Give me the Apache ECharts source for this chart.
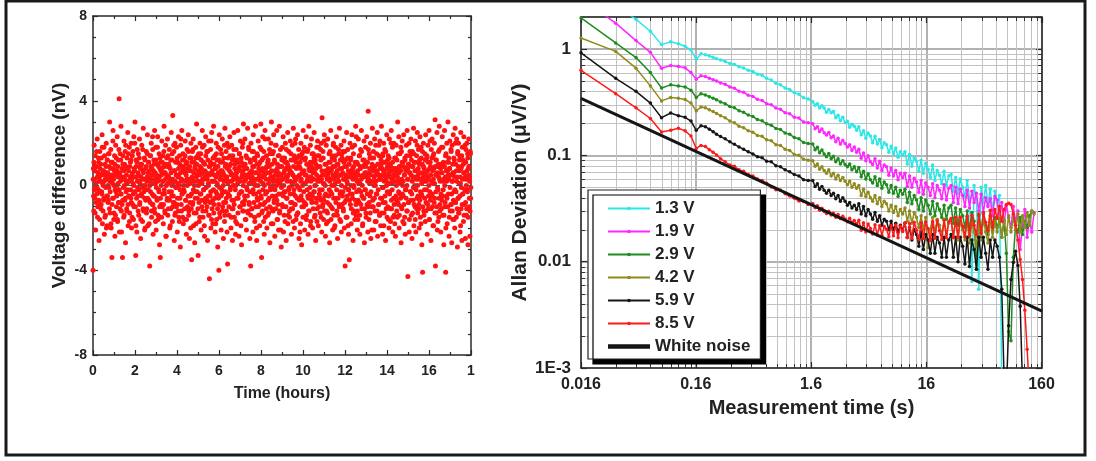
<!DOCTYPE html>
<html><head><meta charset="utf-8">
<script src="https://cdn.jsdelivr.net/npm/echarts@6/dist/echarts.min.js"></script>
<style>html,body{margin:0;padding:0;background:#fff}#c{width:1096px;height:461px}</style>
</head><body><div id="c"></div>
<script>
// ---------- Left panel: voltage difference vs time ----------
const timeStepHours = 0.018;        // spacing of readings within each run
const runBOffsetHours = 0.009;      // run B readings fall between run A readings
const voltageDiffA = [
-4.0,0.8,-1.2,1.9,0.3,-0.6,1.4,-2.1,0.1,0.9,-0.4,2.2,-1.5,0.6,-0.2,1.1,-2.6,0.4,1.6,-0.9,
0.2,-1.1,1.3,-0.3,2.4,-1.8,0.7,0.0,-0.7,1.8,-2.3,0.5,1.0,-1.4,0.3,2.0,-0.5,-1.9,1.2,0.6,
-0.8,1.5,-0.1,0.9,3.0,-1.3,0.4,1.7,-2.0,0.2,-3.4,1.1,-0.6,2.6,0.8,-1.6,0.0,1.4,-2.4,0.5,
1.9,-0.3,-1.0,0.7,2.3,-1.7,0.1,1.2,-0.8,4.1,-2.2,0.6,1.5,-0.4,2.8,-1.2,0.3,-0.9,-3.4,1.0,
0.4,-1.5,2.1,0.0,-0.7,1.6,-2.7,0.9,0.2,-1.1,1.3,-0.2,2.5,-1.9,0.7,-0.5,1.8,-1.3,0.3,1.1,
-0.6,2.0,-2.0,0.5,1.4,-0.9,0.1,-1.6,2.3,0.8,-0.3,3.0,-1.0,-3.3,1.2,0.4,-2.2,1.7,-0.1,0.6,
1.5,-1.4,0.2,2.2,-0.8,0.9,-2.5,1.0,-0.4,1.9,0.3,-1.7,0.7,2.7,-1.2,0.0,1.3,-0.6,-2.0,0.8,
-0.2,1.6,-1.1,0.4,2.4,-1.9,0.6,1.1,-0.7,0.2,-3.8,1.4,-0.3,0.9,2.0,-1.5,0.5,-0.9,1.7,-2.3,
0.7,1.2,-0.5,2.6,-1.3,0.1,1.8,-2.1,0.4,-0.6,1.0,2.3,-1.6,0.3,-0.2,1.5,-2.8,0.8,-3.4,1.1,
-0.9,0.5,2.1,-1.0,0.2,1.4,-1.8,0.9,2.8,-0.4,-1.2,0.6,1.9,-2.4,0.0,1.3,-0.7,2.2,-1.4,0.4,
1.0,-0.3,1.7,-2.0,0.8,0.3,-1.1,2.5,-0.5,1.2,-1.7,3.3,0.1,-0.8,1.6,-2.6,0.7,2.0,-1.3,-0.1,
0.5,1.8,-0.9,-2.2,1.1,0.4,2.3,-1.5,0.0,1.4,-0.6,-2.9,1.9,0.2,-1.2,2.6,-0.4,0.9,1.5,-1.8,
-0.2,1.2,-1.6,0.6,2.1,-0.7,1.0,-2.3,0.3,1.7,-1.0,0.8,2.4,-1.4,0.1,-2.5,1.3,-0.5,0.7,2.0,
-1.1,-3.5,0.4,1.6,-0.8,2.2,-1.9,0.2,1.1,-2.7,0.9,-0.3,1.8,-1.3,2.9,0.5,-0.6,1.4,-3.3,0.0,
1.3,-1.7,0.6,2.0,-0.4,1.5,-2.1,0.8,-1.0,2.6,0.3,-1.5,1.1,-0.2,1.9,-2.4,0.7,-0.8,2.3,-1.2,
0.4,1.6,-0.7,-2.6,1.2,0.1,2.1,-1.4,-4.4,0.9,-0.5,1.7,-2.0,0.6,2.5,-1.1,0.2,-1.8,1.0,2.8,
-0.9,0.5,1.4,-2.2,0.8,-0.3,2.0,-1.6,1.2,0.0,-2.9,1.8,-0.6,-4.0,2.4,-1.3,0.3,1.1,0.7,-2.1,
1.5,-0.4,2.2,-1.0,0.6,-2.5,1.3,0.2,-1.7,2.7,0.9,-0.8,1.6,-1.2,0.4,2.0,-3.7,0.1,-0.5,1.8,
-1.4,0.7,2.3,-0.2,1.0,-2.0,0.5,1.9,-1.1,-2.6,1.4,0.3,-0.7,2.5,-1.5,0.8,1.2,-2.3,0.0,1.7,
0.6,-1.8,1.1,2.6,-0.6,0.2,-2.4,1.5,0.9,-1.0,2.1,-0.3,1.3,-2.8,0.4,1.8,-1.2,0.7,2.9,-0.9,
1.0,-0.5,2.2,-1.6,0.3,1.4,-2.1,0.8,-0.2,2.7,-1.3,0.5,1.7,-0.8,0.1,-2.5,1.2,-3.8,2.0,0.6,
-1.1,1.6,0.2,-2.2,2.4,-0.4,0.9,1.3,-1.7,0.0,2.8,-1.0,0.6,-2.6,1.5,0.3,-0.7,2.1,-1.4,1.0,
0.4,-1.9,1.8,0.7,2.9,-0.6,-3.4,1.2,-1.2,2.3,0.1,-0.9,1.6,-2.3,0.5,2.6,-1.5,0.8,-0.3,1.4,
-2.0,0.9,1.1,-0.7,2.2,-1.3,0.3,1.7,-2.7,0.6,-0.2,2.0,3.0,-1.1,0.4,1.5,-1.8,0.0,2.4,-0.8,
1.2,-2.4,0.7,1.9,-0.5,0.2,2.6,-1.6,1.0,-0.9,1.4,-2.1,0.5,2.8,-1.2,0.1,1.7,-0.4,-2.9,0.9,
0.3,1.8,-1.0,2.3,-2.2,0.6,-0.3,1.3,-1.7,2.0,0.8,-2.6,1.1,-0.6,0.4,2.5,-1.4,0.9,1.6,-0.1,
-1.5,0.7,2.1,-0.8,1.2,-2.3,0.0,1.9,-1.1,0.5,2.7,-0.4,1.4,-2.0,0.2,-0.9,2.2,-1.6,0.8,1.3,
-0.6,2.4,-1.3,0.4,1.7,-2.5,0.9,-0.2,1.1,-1.8,2.0,0.3,-2.8,1.5,-0.7,0.6,2.6,-1.0,0.1,1.8,
-2.1,0.5,1.3,-0.9,2.3,-1.4,0.2,1.6,-0.5,-2.3,1.0,2.8,-1.2,0.7,-0.1,1.9,-1.7,0.4,2.2,-0.8,
1.1,-2.0,0.6,1.5,-0.3,2.5,-1.5,0.0,1.2,-2.6,0.8,-0.6,1.8,-1.1,2.1,0.3,-1.9,0.9,1.4,-0.4,
0.2,-1.3,1.7,-0.7,2.0,-2.2,3.2,0.5,-0.9,1.3,-1.6,0.1,2.4,-0.5,1.0,-2.4,0.7,1.9,-1.2,0.4,
-0.8,2.2,-1.7,0.6,1.1,-0.2,-2.7,1.6,0.3,2.6,-1.0,0.8,-0.4,1.4,-2.1,0.9,2.0,-1.4,0.0,1.2,
-1.9,0.4,1.8,-0.6,2.3,-1.2,0.7,-2.5,1.0,0.2,1.5,-0.9,2.7,-1.6,0.5,-0.3,1.9,-2.2,0.8,1.3,
-0.5,1.6,-1.1,0.3,2.1,-2.0,0.9,-3.8,1.2,-0.7,0.4,2.5,-1.5,0.1,1.7,-0.2,-2.3,1.0,-3.5,0.6,
2.0,-0.9,1.3,-1.8,0.5,2.4,-0.4,0.8,-2.6,1.5,0.0,-1.2,1.9,0.6,-0.7,2.8,-1.4,0.3,1.1,-2.1,
0.7,-1.6,2.2,0.1,-0.8,1.4,-2.3,0.9,1.7,-0.3,2.6,-1.1,0.4,-1.9,1.2,0.5,-0.6,2.1,-2.7,1.0,
-0.2,1.8,-1.3,0.6,2.3,-0.9,1.1,-2.2,3.5,0.3,-1.6,1.5,0.8,-0.5,2.0,-2.5,0.2,1.3,-1.0,2.7,
-0.7,0.9,1.6,-2.1,0.4,2.2,-1.2,0.0,1.9,-1.7,0.7,-0.4,2.5,-2.4,1.0,0.5,-0.9,1.4,-1.4,2.1,
0.3,-1.9,1.2,2.8,-0.6,0.8,-2.3,1.5,-0.1,2.0,-1.3,0.6,1.7,-0.8,-2.6,1.1,0.2,2.4,-1.5,0.9,
-1.0,1.4,0.5,-2.0,2.2,-0.3,1.0,-1.7,0.7,2.6,-1.1,0.1,1.8,-2.2,0.4,-0.6,2.0,-1.4,1.3,0.8,
-2.4,0.6,1.9,-0.7,1.2,-1.5,3.0,0.2,-0.9,2.3,-2.0,0.9,1.5,-0.4,0.7,-2.7,1.6,-1.1,2.1,0.0,
1.1,-0.5,2.4,-1.8,0.5,1.3,-2.3,0.8,-0.2,1.9,-1.2,2.6,0.3,-4.3,1.0,-0.8,2.0,-1.6,0.6,1.4,
-0.3,2.2,-1.4,0.9,-2.5,1.6,0.4,-0.7,2.7,-1.9,1.1,0.0,-1.0,2.1,-2.2,0.7,1.4,-0.6,2.5,-1.3,
0.5,1.7,-0.9,-2.0,1.2,2.3,-1.5,0.3,1.8,-0.4,-2.8,1.0,-4.1,0.6,2.0,-1.2,0.8,-0.2,1.5,-1.7,
2.4,-0.8,0.2,1.3,-2.3,0.7,1.9,-1.1,0.4,2.6,-1.6,-0.3,1.1,0.9,-2.6,1.7,-0.5,2.2,-1.0,0.1,
1.4,-1.9,0.8,2.0,-0.6,3.1,-3.8,1.2,-1.3,0.5,2.5,-2.1,0.9,-0.2,1.6,-1.5,2.8,0.3,-0.9,1.0,
-2.2,0.6,1.8,-0.7,2.3,-1.4,0.2,1.1,-2.8,0.9,2.6,-1.0,0.4,-4.1,1.5,-0.5,2.0,-1.8,0.7,3.0,
-0.4,1.3,-2.4,0.8,2.1,-1.2,0.5,1.7,-0.9,-2.7,1.9,0.2,-1.6,2.4,0.6,-0.3,1.2,-2.0,2.7,-0.8,
1.0,-1.5,2.2,0.4,-2.9,1.6,-0.6,2.0,-1.3,0.7,1.4,-2.2,0.1,2.5,-1.1,0.9,-2.6,1.8,-0.4,1.2,
-1.7,2.3,0.6,-0.9,1.9,-2.5,1.1,0.3,-1.4,2.0,-0.2,1.5,-2.8,0.8,2.2,-1.0,0.4,-2.4,1.6,-0.6
];
const voltageDiffB = [
0.3,-0.5,1.1,-0.2,0.7,-1.3,0.0,0.9,-0.8,1.6,-0.1,0.4,-1.0,0.6,1.3,-0.7,0.2,-1.6,0.8,-0.3,
1.0,-0.9,0.5,-0.4,1.8,0.1,-1.2,0.7,-0.6,0.2,1.4,-1.5,0.3,-0.1,0.9,-2.0,0.6,1.2,-0.5,0.0,
-0.7,0.4,1.5,-1.1,0.2,-0.3,0.8,-1.8,1.1,0.5,-0.9,0.1,2.1,-0.6,0.3,-1.3,0.7,1.0,-0.2,-1.4,
0.6,1.3,-0.5,0.0,-1.6,0.9,0.4,-0.8,1.7,-0.2,0.5,-1.1,0.2,1.2,-0.4,-2.2,0.8,0.3,-0.7,1.4,
-0.1,0.7,-1.4,1.0,0.3,-0.6,1.9,-0.3,0.5,-1.2,0.1,0.8,-0.9,1.5,-0.5,0.2,-1.7,0.9,0.4,-0.2,
1.2,-0.8,0.3,-1.5,0.6,1.6,-0.4,0.0,-1.0,0.7,2.0,-0.3,0.4,-1.9,0.9,-0.6,1.1,0.2,-0.5,-1.2,
0.5,-0.2,1.3,-0.9,0.1,0.8,-1.6,0.4,1.0,-0.5,-0.1,1.7,-1.1,0.6,-0.3,0.3,-2.1,1.2,0.0,-0.7,
0.9,-1.3,0.2,1.5,-0.6,0.4,-0.2,1.1,-1.8,0.7,0.0,-0.8,1.4,0.3,-1.2,0.8,-0.4,2.3,-0.9,0.1,
-0.5,1.0,-1.1,0.3,0.6,-1.7,1.2,-0.1,0.5,-0.7,1.8,0.2,-1.4,0.9,-0.3,0.4,-1.0,1.3,-0.6,0.7,
0.0,-1.5,0.8,1.1,-0.4,0.2,-0.9,1.6,-0.2,0.6,-1.3,0.3,1.0,-2.4,0.5,0.9,-0.6,0.1,1.4,-1.1,
0.4,0.9,-0.7,0.2,-1.9,1.2,0.6,-0.3,0.0,1.5,-1.0,0.3,-0.5,1.9,-0.8,0.7,-1.4,0.2,1.1,-0.1,
-1.0,0.5,1.3,-0.6,0.1,-1.2,0.8,0.4,-1.7,1.0,-0.2,0.6,2.2,-0.9,0.3,-0.4,1.2,-1.5,0.7,0.0,
0.8,-0.3,-1.1,1.4,0.2,-0.7,0.5,-1.6,1.1,0.0,0.7,-0.5,1.6,-1.2,0.3,0.9,-0.8,0.1,-2.0,1.3,
-0.4,1.1,0.3,-0.9,1.7,-0.2,0.6,-1.3,0.0,0.8,-0.6,1.3,-1.8,0.4,1.0,-0.3,0.2,-1.1,0.7,1.5,
-0.8,0.2,-1.5,0.9,0.5,-0.4,1.2,-0.7,0.1,1.8,-1.2,0.6,-0.2,0.3,-1.9,1.0,0.4,-0.6,1.4,-0.1,
0.6,-1.0,0.3,1.6,-0.5,0.0,-1.4,0.9,0.5,-0.8,1.1,-0.3,2.1,-1.6,0.2,0.7,-0.7,1.3,-0.2,-1.3,
1.0,0.2,-0.6,0.8,-1.8,0.4,1.5,-0.4,0.1,-1.1,0.9,0.6,-0.9,1.2,-0.1,-1.5,0.5,1.7,-0.5,0.3,
-0.2,0.7,-1.2,1.1,0.0,-0.8,0.5,1.9,-1.4,0.3,-0.3,1.0,-0.6,0.4,-2.2,0.8,1.3,-0.4,0.2,-1.0,
0.9,-0.5,1.4,-0.1,0.6,-1.5,0.2,-0.7,1.2,0.5,-1.1,0.0,1.7,-0.9,0.3,1.0,-0.2,-1.7,0.6,0.4,
-0.6,1.2,0.1,-1.3,0.8,0.3,-0.4,1.5,-1.0,0.2,0.7,-1.9,1.1,-0.3,0.5,-0.8,2.0,0.0,-1.2,0.9,
0.2,-0.7,1.0,0.5,-1.6,0.8,-0.1,1.3,-0.5,0.4,-1.2,1.8,0.1,-0.9,0.6,-0.3,1.1,-1.4,0.3,0.7,
-1.1,0.4,0.9,-0.2,1.6,-0.8,0.1,-1.5,1.2,0.6,-0.4,0.3,-2.0,1.0,-0.6,1.4,0.0,-1.0,0.8,-0.3,
0.5,1.1,-0.9,0.2,-0.5,1.7,-1.3,0.4,0.8,-0.2,1.3,-1.7,0.6,0.0,-0.8,2.2,-0.4,0.3,-1.1,0.9,
-0.3,0.6,-1.4,1.2,0.1,-0.6,0.9,-1.0,1.5,-0.1,0.4,-1.8,0.7,1.0,-0.5,0.2,-1.2,1.6,0.3,-0.7,
1.1,-0.2,0.5,-1.1,1.9,0.0,-0.7,0.8,-1.6,0.3,0.6,-0.4,1.4,-1.3,0.2,0.9,-2.1,0.5,-0.1,1.2,
-0.9,0.3,1.3,-0.5,0.0,-1.4,0.7,1.1,-0.3,0.4,-1.0,1.7,-0.6,0.2,1.0,-1.8,0.5,-0.2,0.8,-1.2,
0.7,-0.4,0.2,1.5,-1.1,0.6,-0.8,0.1,1.2,-1.7,0.9,-0.2,0.4,-0.9,2.0,-0.5,0.3,1.1,-1.4,0.0,
0.4,-1.3,0.9,-0.1,1.4,-0.7,0.5,-2.2,0.8,0.2,-0.5,1.3,-1.0,0.6,0.0,-1.5,1.6,-0.3,0.7,-0.8,
1.2,0.1,-0.9,0.5,-1.6,1.0,-0.2,0.3,1.7,-0.6,-1.2,0.8,0.4,-0.4,1.1,-1.9,0.2,0.9,-0.7,1.5,
-0.5,0.8,-1.1,0.3,1.3,-0.3,0.6,-1.4,0.0,1.0,-0.8,0.5,-1.7,1.4,0.2,-0.6,1.8,-1.0,0.4,-0.2,
0.9,-0.6,1.2,-1.5,0.3,0.7,-0.2,-1.0,1.6,0.1,-0.7,2.1,-1.2,0.5,0.0,-0.4,1.0,-1.8,0.6,0.3,
-1.3,0.4,0.8,-0.5,1.5,-0.9,0.2,1.1,-0.3,-1.6,0.7,0.0,1.3,-1.1,0.5,1.9,-0.6,0.3,-2.0,0.9,
0.1,1.4,-0.8,0.6,-0.2,1.0,-1.4,0.4,-0.6,1.7,0.2,-1.0,0.8,-0.4,1.2,-1.7,0.5,0.0,1.5,-0.9,
0.6,-0.3,-1.2,1.1,0.3,-0.8,1.6,-0.1,0.5,-1.5,0.9,0.2,-0.5,1.3,-1.9,0.7,-0.2,1.0,-0.7,0.4,
-0.4,1.2,0.0,-1.1,0.7,1.8,-0.6,0.3,-1.3,0.9,-0.1,0.6,-1.6,1.1,0.4,-0.9,2.3,-0.3,0.2,-1.2,
1.0,-0.7,0.5,-0.2,1.4,-1.4,0.1,0.8,-0.9,0.3,1.6,-0.5,0.0,-1.8,0.9,0.4,-0.6,1.2,-1.1,0.6,
-0.2,0.9,-1.5,0.4,1.1,-0.4,0.2,-1.0,1.7,0.6,-0.8,0.1,1.3,-1.3,0.5,-0.3,0.8,-2.1,1.0,0.2,
0.7,-1.0,1.3,0.0,-0.6,0.9,-1.7,0.5,0.2,-0.4,1.5,-1.2,0.6,1.0,-0.2,-0.9,1.9,0.3,-1.4,0.8,
-0.6,0.3,1.0,-1.3,0.5,-0.1,1.4,-0.8,0.7,-1.9,0.2,1.1,-0.5,0.4,1.6,-1.1,0.0,0.8,-0.3,1.2,
0.4,-1.6,0.6,1.3,-0.4,0.1,-1.1,0.9,2.0,-0.7,0.3,-0.2,1.1,-1.5,0.5,0.8,-0.9,0.2,-1.8,0.7,
1.3,-0.5,0.0,-1.2,0.8,0.4,-0.8,1.5,-0.3,0.6,-1.4,0.9,0.1,-0.6,1.8,-1.0,0.3,1.1,-0.4,-1.7,
0.2,0.9,-0.9,0.5,-1.5,1.2,-0.2,0.7,-0.6,1.4,0.0,-1.2,0.8,0.3,-0.8,1.0,-2.2,0.6,1.6,-0.3,
-0.7,0.5,1.2,-0.4,0.2,-1.3,0.9,-0.1,1.5,-0.9,0.4,0.7,-1.6,1.1,-0.2,0.3,-1.1,1.9,0.0,-0.5,
0.8,-1.1,0.3,1.0,-0.7,0.6,-0.3,-1.8,1.3,0.1,-0.5,1.6,-1.0,0.4,0.9,-1.4,0.2,-0.6,1.2,0.5,
-1.2,0.6,-0.2,1.4,0.3,-0.9,1.1,-0.5,0.0,-1.6,0.8,2.1,-0.7,0.5,-1.1,0.2,1.3,-0.4,0.7,-1.9,
0.3,1.5,-0.8,0.1,-1.3,0.9,0.5,-0.3,1.2,-1.0,0.6,-0.1,-1.7,1.0,0.4,-0.6,1.7,-1.2,0.2,0.8,
-0.4,-1.1,1.0,0.6,-0.5,1.8,-0.2,0.3,-1.4,0.9,0.0,-0.8,1.4,-2.0,0.7,0.2,-0.6,1.1,-1.0,0.5,
1.1,0.3,-1.5,0.8,-0.1,0.5,-0.9,1.6,-0.4,0.2,-1.2,1.0,0.6,-0.7,1.3,-1.6,0.4,-0.2,2.0,-0.8,
-0.3,0.7,0.2,-1.1,1.5,-0.6,0.9,-1.3,0.1,1.2,-0.5,0.4,-1.9,0.8,-0.1,1.4,-0.9,0.3,-0.4,1.0,
0.6,-1.4,1.1,-0.2,0.4,-0.8,1.7,0.0,-1.1,0.7,-0.3,1.3,-1.5,0.5,0.9,-0.6,0.2,-1.2,1.5,-0.1
];
const zeroLineTime = [0, 18];
const zeroLineValue = [0, 0];
const timeAxisLabels = ['0','2','4','6','8','10','12','14','16','1'];
const voltageAxisLabels = ['-8','-4','0','4','8'];

// ---------- Right panel: Allan deviation ----------
const tau = [
0.016,0.032,0.048,0.064,0.08,0.096,0.112,0.128,0.144,0.16,0.176,0.192,0.208,0.224,0.24,
0.26,0.285,0.313,0.343,0.376,0.412,0.452,0.496,0.543,0.596,
0.653,0.716,0.785,0.861,0.944,1.035,1.135,1.245,1.365,1.497,
1.641,1.72,1.8,1.88,1.97,2.06,2.16,2.26,2.37,2.48,2.6,2.72,2.85,2.99,3.13,3.28,3.43,3.59,3.76,3.94,
4.12,4.32,4.52,4.74,4.96,5.19,5.43,5.69,5.96,6.24,6.53,6.84,7.16,7.5,7.85,8.22,8.61,9.02,9.44,9.88,
10.35,10.84,11.35,11.89,12.45,13.04,13.65,14.3,14.97,15.67,16.41,17.19,18,18.83,19.7,20.63,21.6,22.63,23.7,24.82,
26,27.2,28.5,29.9,31.3,32.8,34.3,35.9,37.6,39.4,41.2,43.2,45.2,47.4,49.6,51.9,54.3,56.9,59.6,62.4,
65.3,68.4,71.6,75,78.5,82.2,86.1,90.2,94.4,98.9,103.5,108.4,113.5,118.9,124.5,130.4,136.5
];
const adev1p3V = [
4.5,2.6,1.9,1.47,1.1,1.17,1.12,1.06,0.98,0.8,0.9,0.885,0.86,0.835,0.81,
0.79,0.765,0.73,0.715,0.68,0.664,0.63,0.614,0.58,0.566,
0.53,0.51,0.476,0.46,0.43,0.416,0.388,0.376,0.348,0.338,
0.32,0.296,0.305,0.278,0.292,0.279,0.254,0.27,0.252,0.258,0.226,0.238,0.212,0.228,0.204,0.209,0.184,0.196,0.188,0.172,
0.186,0.156,0.17,0.145,0.162,0.152,0.131,0.151,0.128,0.141,0.118,0.131,0.126,0.107,0.122,0.104,0.117,0.096,0.108,0.101,
0.108,0.083,0.102,0.079,0.095,0.088,0.071,0.09,0.068,0.084,0.074,0.062,0.081,0.058,0.072,0.065,0.054,0.071,0.052,0.064,
0.066,0.046,0.062,0.044,0.06,0.05,0.041,0.058,0.04,0.0065,0.052,0.038,0.0055,0.05,0.036,0.052,0.034,0.048,0.03,0.046,
0.036,0.042,0.0007
];
const adev1p9V = [
3.0,1.75,1.2,0.93,0.66,0.7,0.685,0.665,0.6,0.52,0.56,0.55,0.53,0.515,0.5,
0.48,0.466,0.44,0.428,0.4,0.392,0.368,0.358,0.336,0.328,
0.306,0.299,0.278,0.271,0.251,0.246,0.228,0.224,0.206,0.203,
0.198,0.178,0.186,0.168,0.177,0.163,0.155,0.164,0.146,0.152,0.134,0.145,0.128,0.138,0.129,0.12,0.126,0.111,0.12,0.107,
0.114,0.094,0.105,0.089,0.099,0.087,0.082,0.093,0.076,0.088,0.072,0.081,0.078,0.065,0.076,0.064,0.072,0.059,0.068,0.062,
0.068,0.051,0.064,0.05,0.061,0.056,0.045,0.058,0.043,0.055,0.05,0.042,0.054,0.04,0.052,0.047,0.039,0.053,0.038,0.049,
0.052,0.036,0.05,0.035,0.048,0.042,0.033,0.047,0.032,0.046,0.036,0.044,0.03,0.043,0.029,0.04,0.033,0.039,0.027,0.041,
0.038,0.025,0.036,0.023,0.034,0.026,0.021,0.033,0.024,0.03,0.013,0.022,0.031,0.017,0.024,0.019,0.029
];
const adev2p9V = [
1.96,1.14,0.83,0.6,0.43,0.46,0.45,0.44,0.41,0.35,0.38,0.37,0.355,0.345,0.333,
0.318,0.306,0.288,0.28,0.263,0.254,0.239,0.232,0.217,0.211,
0.198,0.192,0.179,0.175,0.162,0.158,0.147,0.143,0.132,0.129,
0.128,0.113,0.119,0.106,0.112,0.103,0.097,0.104,0.093,0.098,0.087,0.093,0.083,0.089,0.082,0.078,0.083,0.073,0.078,0.07,
0.077,0.063,0.071,0.06,0.067,0.059,0.055,0.063,0.052,0.06,0.049,0.056,0.053,0.045,0.052,0.044,0.05,0.041,0.047,0.043,
0.048,0.036,0.045,0.035,0.042,0.038,0.031,0.04,0.03,0.038,0.034,0.028,0.037,0.027,0.035,0.031,0.026,0.034,0.025,0.032,
0.034,0.023,0.032,0.022,0.031,0.027,0.021,0.03,0.02,0.029,0.024,0.0085,0.027,0.019,0.028,0.022,0.018,0.027,0.019,0.026,
0.021,0.025,0.017,0.024,0.012,0.0022,0.0018,0.011,0.022,0.019,0.026,0.018,0.024,0.021,0.027,0.03
];
const adev4p2V = [
1.27,0.95,0.66,0.45,0.325,0.35,0.345,0.335,0.31,0.262,0.285,0.28,0.268,0.258,0.248,
0.236,0.226,0.21,0.202,0.188,0.182,0.17,0.165,0.154,0.151,
0.14,0.137,0.126,0.124,0.114,0.111,0.102,0.1,0.092,0.09,
0.089,0.079,0.083,0.074,0.078,0.072,0.068,0.073,0.064,0.068,0.06,0.065,0.058,0.062,0.057,0.053,0.057,0.05,0.054,0.049,
0.052,0.042,0.048,0.041,0.045,0.04,0.037,0.042,0.035,0.04,0.033,0.037,0.035,0.03,0.034,0.029,0.033,0.027,0.031,0.028,
0.032,0.024,0.03,0.023,0.029,0.026,0.021,0.027,0.02,0.026,0.0135,0.02,0.026,0.019,0.025,0.022,0.018,0.025,0.018,0.023,
0.025,0.017,0.024,0.016,0.024,0.02,0.016,0.024,0.015,0.023,0.019,0.014,0.024,0.016,0.025,0.019,0.015,0.025,0.017,0.024,
0.019,0.026,0.017,0.025,0.018,0.027,0.019,0.026,0.02,0.028,0.019,0.027,0.021,0.029,0.022,0.03,0.028
];
const adev5p9V = [
0.92,0.53,0.4,0.31,0.226,0.25,0.236,0.228,0.21,0.172,0.19,0.186,0.176,0.167,0.158,
0.15,0.143,0.134,0.127,0.12,0.114,0.108,0.103,0.097,0.095,
0.088,0.087,0.08,0.078,0.073,0.07,0.066,0.064,0.059,0.058,
0.058,0.051,0.054,0.048,0.051,0.047,0.044,0.047,0.042,0.044,0.039,0.042,0.037,0.04,0.037,0.034,0.036,0.032,0.034,0.031,
0.035,0.028,0.033,0.027,0.031,0.028,0.025,0.029,0.024,0.027,0.022,0.025,0.024,0.02,0.024,0.02,0.023,0.019,0.022,0.02,
0.023,0.017,0.021,0.016,0.02,0.018,0.014,0.019,0.013,0.018,0.016,0.012,0.018,0.012,0.017,0.015,0.011,0.017,0.011,0.016,
0.018,0.011,0.017,0.01,0.017,0.014,0.0095,0.017,0.009,0.016,0.013,0.0085,0.017,0.011,0.017,0.012,0.0085,0.016,0.011,0.016,
0.014,0.011,0.0055,0.0008,0.0006,0.0025,0.0068,0.0098,0.0125,0.0092,0.0038,0.0007
];
const adev8p5V = [
0.63,0.38,0.28,0.222,0.166,0.172,0.18,0.17,0.152,0.116,0.124,0.121,0.113,0.107,0.101,
0.093,0.087,0.081,0.079,0.073,0.071,0.066,0.064,0.06,0.058,
0.0545,0.0505,0.0475,0.047,0.0435,0.0415,0.0395,0.0372,0.0368,0.0345,
0.0352,0.0322,0.0336,0.0304,0.0318,0.0296,0.0284,0.0298,0.0274,0.0286,0.0262,0.0278,0.0254,0.0268,0.0252,0.0238,0.0256,0.0232,0.0244,0.0226,
0.0245,0.0198,0.0232,0.019,0.0226,0.0205,0.0182,0.0222,0.0178,0.0218,0.0176,0.0214,0.0202,0.0172,0.0218,0.0175,0.0221,0.0168,0.0215,0.0192,
0.0232,0.0168,0.0228,0.0165,0.0235,0.0198,0.0162,0.0232,0.0165,0.0236,0.0205,0.0158,0.0238,0.0166,0.0242,0.0195,0.0162,0.0245,0.0168,0.0238,
0.0255,0.0168,0.026,0.017,0.0262,0.0215,0.0172,0.0268,0.0175,0.0272,0.022,0.0178,0.028,0.0185,0.029,0.0235,0.0195,0.0305,0.021,0.031,
0.0255,0.0332,0.024,0.031,0.0345,0.0355,0.0345,0.028,0.022,0.016,0.0105,0.0068,0.0035,0.0015,0.0006
];
const whiteNoiseTau = [0.016, 160];
const whiteNoiseValue = [0.343, 0.00343];
const seriesNames = ['1.3 V','1.9 V','2.9 V','4.2 V','5.9 V','8.5 V'];
const seriesColors = ['#2ae8e8','#ff26ff','#1e8c1e','#8e8c1e','#161616','#ff1a1a'];
const tauAxisLabels = ['0.016','0.16','1.6','16','160'];
const adevAxisLabels = {'-3':'1E-3','-2':'0.01','-1':'0.1','0':'1'};

// ---------- build ----------
const FONT = "'Liberation Sans', Arial, Helvetica, sans-serif";
function pairs(xs, ys) { const out = []; for (let i = 0; i < ys.length; i++) if (ys[i] != null) out.push([xs[i], ys[i]]); return out; }
const scatterData = voltageDiffA.map((v, i) => [i * timeStepHours, v])
  .concat(voltageDiffB.map((v, i) => [runBOffsetHours + i * timeStepHours, v]));
const adevSets = [adev1p3V, adev1p9V, adev2p9V, adev4p2V, adev5p9V, adev8p5V];

const minorTau = [];
for (let d = 0; d < 4; d++) for (let k = 2; k <= 9; k++) minorTau.push(+(0.016 * Math.pow(10, d) * k).toPrecision(3));
const minorAdev = [];
for (let e = -3; e < 0; e++) for (let k = 2; k <= 9; k++) minorAdev.push(+(Math.pow(10, e) * k).toPrecision(3));

const axisLineStyle = { color: '#2a2a2a', width: 1.5 };
const tickStyle = { color: '#2a2a2a', width: 1.2 };
const axisLine = { show: true, onZero: false, lineStyle: axisLineStyle };

function minorRender(isX) {
  return function (params, api) {
    const cs = params.coordSys;
    const p = api.coord([api.value(0), api.value(1)]);
    const grid = { stroke: '#c2c2c2', lineWidth: 1 };
    const tk = { stroke: '#333', lineWidth: 1 };
    if (isX) {
      const x = Math.round(p[0]) + 0.5, t = cs.y, b = cs.y + cs.height;
      return { type: 'group', children: [
        { type: 'line', shape: { x1: x, y1: t, x2: x, y2: b }, style: grid },
        { type: 'line', shape: { x1: x, y1: b, x2: x, y2: b - 4 }, style: tk },
        { type: 'line', shape: { x1: x, y1: t, x2: x, y2: t + 4 }, style: tk }
      ]};
    } else {
      const y = Math.round(p[1]) + 0.5, l = cs.x, r = cs.x + cs.width;
      return { type: 'group', children: [
        { type: 'line', shape: { x1: l, y1: y, x2: r, y2: y }, style: grid },
        { type: 'line', shape: { x1: l, y1: y, x2: l + 4, y2: y }, style: tk },
        { type: 'line', shape: { x1: r, y1: y, x2: r - 4, y2: y }, style: tk }
      ]};
    }
  };
}

const series = [
  {
    type: 'scatter', xAxisIndex: 0, yAxisIndex: 0, data: scatterData,
    symbolSize: 5, itemStyle: { color: '#ff1212', opacity: 1 }, z: 3
  },
  {
    type: 'line', xAxisIndex: 0, yAxisIndex: 0, data: pairs(zeroLineTime, zeroLineValue),
    symbol: 'none', silent: true, lineStyle: { color: '#555', type: [6, 5], width: 1 }, z: 4
  },
  { type: 'custom', xAxisIndex: 2, yAxisIndex: 2, data: minorTau.map(v => [v, 0.01]), renderItem: minorRender(true), silent: true, z: 1 },
  { type: 'custom', xAxisIndex: 2, yAxisIndex: 2, data: minorAdev.map(v => [1, v]), renderItem: minorRender(false), silent: true, z: 1 }
];
adevSets.forEach((arr, i) => {
  series.push({
    name: seriesNames[i], type: 'line', xAxisIndex: 2, yAxisIndex: 2,
    data: pairs(tau, arr), clip: true,
    symbol: 'circle', symbolSize: 3.5, showSymbol: true,
    lineStyle: { width: 1.5, color: seriesColors[i] },
    itemStyle: { color: seriesColors[i] }, z: 3 + i * 0.01
  });
});
series.push({
  name: 'White noise', type: 'line', xAxisIndex: 2, yAxisIndex: 2,
  data: pairs(whiteNoiseTau, whiteNoiseValue), symbol: 'none', showSymbol: false,
  lineStyle: { width: 3, color: '#151515' }, itemStyle: { color: '#151515' }, z: 4
});

const labelBold = (size) => ({ fontFamily: FONT, fontWeight: 'bold', fontSize: size, color: '#222' });

const option = {
  animation: false,
  backgroundColor: '#fff',
  grid: [
    { left: 93, top: 16, width: 378, height: 339 },
    { left: 581, top: 17, width: 461, height: 351 }
  ],
  xAxis: [
    { type: 'value', gridIndex: 0, min: 0, max: 18, interval: 2, position: 'bottom',
      axisLine: axisLine, splitLine: { show: false },
      axisTick: { inside: true, length: 5, lineStyle: tickStyle },
      minorTick: { show: true, splitNumber: 2, length: 3, lineStyle: tickStyle },
      axisLabel: { ...labelBold(14), margin: 9, formatter: v => timeAxisLabels[Math.round(v / 2)] },
      name: 'Time (hours)', nameLocation: 'middle', nameGap: 31, nameTextStyle: labelBold(16) },
    { type: 'value', gridIndex: 0, min: 0, max: 18, interval: 2, position: 'top',
      axisLine: axisLine, splitLine: { show: false },
      axisTick: { inside: true, length: 5, lineStyle: tickStyle },
      minorTick: { show: true, splitNumber: 2, length: 3, lineStyle: tickStyle },
      axisLabel: { show: false } },
    { type: 'log', logBase: 10, gridIndex: 1, min: 0.016, max: 160, interval: 1, position: 'bottom',
      axisLine: axisLine,
      splitLine: { show: true, lineStyle: { color: '#999', width: 1.5 } },
      axisTick: { inside: true, length: 6, lineStyle: tickStyle },
      axisLabel: { ...labelBold(16), margin: 9, formatter: v => tauAxisLabels[Math.round(Math.log10(v / 0.016))] },
      name: 'Measurement time (s)', nameLocation: 'middle', nameGap: 30, nameTextStyle: labelBold(20) },
    { type: 'log', logBase: 10, gridIndex: 1, min: 0.016, max: 160, interval: 1, position: 'top',
      axisLine: axisLine, splitLine: { show: false },
      axisTick: { inside: true, length: 6, lineStyle: tickStyle }, axisLabel: { show: false } }
  ],
  yAxis: [
    { type: 'value', gridIndex: 0, min: -8, max: 8, interval: 4, position: 'left',
      axisLine: axisLine, splitLine: { show: false },
      axisTick: { inside: true, length: 5, lineStyle: tickStyle },
      minorTick: { show: true, splitNumber: 4, length: 3, lineStyle: tickStyle },
      axisLabel: { ...labelBold(14), margin: 6, formatter: v => voltageAxisLabels[Math.round((v + 8) / 4)] },
      name: 'Voltage difference (nV)', nameLocation: 'middle', nameGap: 24, nameRotate: 90, nameTextStyle: labelBold(19) },
    { type: 'value', gridIndex: 0, min: -8, max: 8, interval: 4, position: 'right',
      axisLine: axisLine, splitLine: { show: false },
      axisTick: { inside: true, length: 5, lineStyle: tickStyle },
      minorTick: { show: true, splitNumber: 4, length: 3, lineStyle: tickStyle },
      axisLabel: { show: false } },
    { type: 'log', logBase: 10, gridIndex: 1, min: 0.001, max: 2, interval: 1, position: 'left',
      axisLine: axisLine,
      splitLine: { show: true, lineStyle: { color: '#999', width: 1.5 } },
      axisTick: { inside: true, length: 6, lineStyle: tickStyle },
      axisLabel: { ...labelBold(17), margin: 10, showMaxLabel: false, formatter: v => {
        const l = Math.log10(v), e = Math.round(l);
        return Math.abs(l - e) < 0.01 ? (adevAxisLabels[String(e)] || '') : '';
      } },
      name: 'Allan Deviation (\u03bcV/V)', nameLocation: 'middle', nameGap: 49, nameRotate: 90, nameTextStyle: labelBold(21) },
    { type: 'log', logBase: 10, gridIndex: 1, min: 0.001, max: 2, interval: 1, position: 'right',
      axisLine: axisLine, splitLine: { show: false },
      axisTick: { inside: true, length: 6, lineStyle: tickStyle }, axisLabel: { show: false } }
  ],
  legend: {
    data: seriesNames.map(n => ({ name: n })).concat([{ name: 'White noise', icon: 'rect' }]),
    orient: 'vertical', left: 588, top: 190,
    backgroundColor: '#fff', borderColor: '#222', borderWidth: 1.2,
    shadowColor: '#000', shadowBlur: 0, shadowOffsetX: 5, shadowOffsetY: 5,
    padding: [10, 10, 4, 19], itemWidth: 42, itemHeight: 4.5, itemGap: 6,
    selectedMode: false,
    textStyle: { ...labelBold(17), lineHeight: 17 }
  },
  graphic: [
    { type: 'rect', silent: true, z: 100,
      shape: { x: 6, y: 1, width: 1079, height: 454 },
      style: { fill: 'none', stroke: '#1a1a1a', lineWidth: 3 } }
  ],
  series: series
};
const chart = echarts.init(document.getElementById('c'));
chart.setOption(option);
</script>
</body></html>
